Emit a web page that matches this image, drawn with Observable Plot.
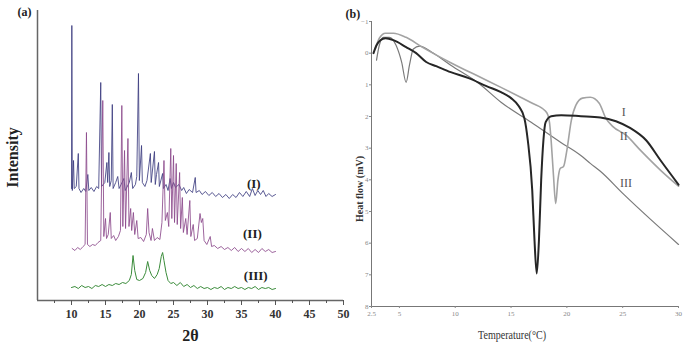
<!DOCTYPE html>
<html><head><meta charset="utf-8">
<script src="https://cdn.jsdelivr.net/npm/d3@7"></script>
<script src="https://cdn.jsdelivr.net/npm/@observablehq/plot@0.6"></script>
<style>
body{margin:0;background:#fff;}
#wrap{display:flex;width:688px;height:357px;overflow:hidden;background:#fff;}
#wrap svg{overflow:visible;}
</style></head><body><div id="wrap"></div>
<script>
// ---------- Panel (a): XRD patterns, [2θ, intensity (a.u., offset as plotted)] ----------
const xrdI = [[10.0,112],[10.05,275],[10.12,110],[10.3,140],[10.4,112],[10.7,114],[11.0,147],[11.1,112],[11.4,108],[11.8,112],[12.1,109],[12.4,126],[12.55,110],[12.9,113],[13.3,109],[13.7,114],[14.0,112],[14.3,218],[14.42,114],[14.9,118],[15.2,138],[15.32,118],[15.5,148],[15.62,114],[15.85,120],[16.0,196],[16.12,112],[16.5,118],[16.8,124],[17.0,112],[17.3,116],[17.7,122],[17.9,110],[18.5,118],[18.8,128],[19.0,112],[19.4,116],[19.6,124],[19.85,227],[19.98,120],[20.3,155],[20.42,118],[20.8,114],[21.1,120],[21.6,147],[21.72,118],[22.2,149],[22.32,116],[22.5,126],[22.8,138],[22.92,114],[23.4,127],[23.52,112],[23.9,116],[24.2,110],[24.5,122],[24.7,112],[25.0,118],[25.3,113],[25.8,116],[26.2,110],[26.5,113],[26.9,107],[27.3,111],[27.8,108],[28.2,123],[28.32,108],[28.8,110],[29.2,106],[29.7,109],[30.2,105],[30.7,108],[31.2,104],[31.7,107],[32.2,103],[32.7,106],[33.2,102],[33.7,106],[34.2,103],[34.7,108],[35.2,104],[35.7,109],[36.2,104],[36.6,112],[37.0,105],[37.4,110],[37.8,106],[38.2,110],[38.6,104],[39.0,107],[39.5,104],[40.0,106]];
const xrdII = [[10.1,52],[10.5,50],[10.9,53],[11.3,51],[11.7,54],[12.0,56],[12.2,168],[12.35,56],[12.7,54],[13.1,56],[13.5,55],[13.9,58],[14.3,60],[14.6,200],[14.75,64],[15.0,82],[15.15,62],[15.4,66],[15.7,88],[15.85,62],[16.2,65],[16.5,60],[16.9,64],[17.2,70],[17.4,195],[17.55,74],[17.8,150],[17.95,72],[18.3,162],[18.45,74],[18.7,92],[18.85,70],[19.1,88],[19.3,66],[19.6,80],[19.8,62],[20.2,63],[20.6,59],[21.0,66],[21.2,92],[21.4,68],[21.7,60],[21.9,72],[22.2,60],[22.6,63],[23.0,61],[23.3,78],[23.6,140],[23.8,80],[24.1,88],[24.3,74],[24.6,152],[24.75,82],[25.0,145],[25.15,78],[25.4,137],[25.55,76],[25.9,128],[26.05,72],[26.3,103],[26.45,68],[26.8,82],[27.0,66],[27.4,100],[27.55,64],[27.9,76],[28.1,60],[28.5,62],[28.9,87],[29.1,78],[29.3,82],[29.5,60],[29.9,56],[30.4,64],[30.6,54],[31.0,55],[31.5,52],[32.0,54],[32.5,51],[33.0,53],[33.5,50],[34.0,53],[34.5,49],[35.0,52],[35.5,49],[36.0,52],[36.5,48],[37.0,51],[37.5,48],[38.0,52],[38.5,49],[39.0,51],[39.5,48],[40.0,49]];
const xrdIII = [[10.0,13],[10.5,14],[11.0,12],[11.5,15],[12.0,13],[12.5,14],[13.0,12],[13.5,15],[14.0,14],[14.5,16],[15.0,14],[15.5,16],[16.0,15],[16.5,17],[17.0,16],[17.5,18],[18.0,17],[18.5,20],[18.8,26],[19.05,45],[19.3,30],[19.6,21],[20.0,20],[20.5,22],[20.9,28],[21.2,39],[21.5,30],[21.8,25],[22.2,22],[22.6,26],[22.9,32],[23.2,44],[23.4,48],[23.6,40],[23.9,28],[24.2,20],[24.6,17],[25.0,18],[25.5,15],[26.0,18],[26.5,14],[27.0,16],[27.5,13],[28.0,15],[28.5,12],[29.0,14],[29.5,12],[30.0,13],[30.5,11],[31.0,13],[31.5,12],[32.0,14],[32.5,11],[33.0,13],[33.5,12],[34.0,14],[34.5,12],[35.0,13],[35.5,11],[36.0,13],[36.5,12],[37.0,14],[37.5,11],[38.0,13],[38.5,12],[39.0,13],[39.5,11],[40.0,12]];
const xrdLabels = [{t:36.8,v:117,s:"(I)"},{t:36.6,v:67,s:"(II)"},{t:37.1,v:25,s:"(III)"}];
const xTicksA = [10,15,20,25,30,35,40,45,50];
const xMinorA = [7.5,12.5,17.5,22.5,27.5,32.5,37.5,42.5,47.5];

// ---------- Panel (b): DSC curves, [temperature, heat flow (mV)] ----------
const dscI = [[2.68,0],[2.95,-0.25],[3.3,-0.41],[3.75,-0.47],[4.46,-0.41],[5.6,-0.19],[6.5,0],[7.4,0.28],[8.3,0.41],[9.6,0.6],[11.2,0.79],[12.8,1.04],[14.1,1.23],[15.0,1.42],[15.7,1.68],[16.2,2.06],[16.5,2.75],[16.9,4.34],[17.1,5.9],[17.3,6.96],[17.5,5.9],[17.7,4.0],[17.9,2.75],[18.1,2.18],[18.6,1.99],[19.5,1.96],[21.25,1.99],[23.0,2.03],[24.4,2.15],[25.7,2.37],[27.1,2.75],[28.4,3.39],[30.0,4.15]];
const dscII = [[2.86,-0.16],[3.2,-0.47],[3.75,-0.63],[4.46,-0.63],[5.6,-0.5],[7.0,-0.2],[9.6,0.3],[12.3,0.77],[14.1,1.08],[15.9,1.4],[17.0,1.6],[17.7,1.72],[18.0,1.8],[18.3,1.95],[18.45,2.2],[18.6,2.8],[18.8,3.86],[19.0,4.75],[19.2,4.0],[19.4,3.64],[19.7,3.58],[20.0,3.07],[20.4,2.12],[20.8,1.65],[21.4,1.42],[22.1,1.39],[22.9,1.58],[23.5,2.06],[24.1,2.31],[25.3,2.59],[26.6,3.07],[28.4,3.7],[30.0,4.2]];
const dscIII = [[2.95,0.22],[3.2,-0.25],[3.57,-0.5],[4.1,-0.5],[4.7,-0.25],[5.2,0.28],[5.6,0.92],[5.9,0.38],[6.25,-0.13],[6.8,-0.22],[7.9,-0.03],[9.6,0.38],[12.1,0.95],[14.1,1.55],[16.8,2.18],[19.46,2.82],[21.25,3.23],[22.1,3.48],[23.0,3.73],[25.1,4.46],[27.5,5.25],[30.0,6.04]];
const dscLabels = [{t:25.1,v:1.87,s:"I"},{t:25.1,v:2.63,s:"II"},{t:25.3,v:4.12,s:"III"}];
const xTicksB = [2.5,5,10,15,20,25,30];
const yTicksB = [-1,0,1,2,3,4,5,6,7,8];

const serif = "'Liberation Serif', 'DejaVu Serif', serif";

const a = Plot.plot({
  width: 345, height: 357,
  marginLeft: 37, marginRight: 2, marginTop: 10, marginBottom: 57,
  x: {domain: [5, 50]},
  y: {domain: [0, 290]},
  style: {fontFamily: serif, background: "transparent", color: "#333", overflow: "visible"},
  marks: [
    Plot.line(xrdI, {x: d => d[0], y: d => d[1], stroke: "#3d3d80", strokeWidth: 1, strokeOpacity: 0.85}),
    Plot.line(xrdII, {x: d => d[0], y: d => d[1], stroke: "#8c4a8c", strokeWidth: 1, strokeOpacity: 0.85}),
    Plot.line(xrdIII, {x: d => d[0], y: d => d[1], stroke: "#3b8c3b", strokeWidth: 1}),
    Plot.ruleX([5], {stroke: "#666", strokeWidth: 1.5}),
    Plot.ruleY([0], {stroke: "#666", strokeWidth: 1.5}),
    Plot.axisX({ticks: xTicksA, tickSize: 5, tickPadding: 4, fontSize: 12, fontWeight: "bold", label: null, stroke: "#555"}),
    Plot.axisX({ticks: xMinorA, tickSize: 3, tickFormat: () => "", label: null, stroke: "#555"}),
    Plot.axisY({ticks: [], label: null}),
    Plot.text(xrdLabels, {x: "t", y: "v", text: "s", fontSize: 13, fontWeight: "bold", fill: "#222"}),
    Plot.text(["2θ"], {frameAnchor: "bottom", dy: 40, fontSize: 16, fontWeight: "bold", fill: "#222"}),
    Plot.text(["Intensity"], {frameAnchor: "left", textAnchor: "middle", dx: -25, dy: 2, rotate: -90, fontSize: 16, fontWeight: "bold", fill: "#222"}),
    Plot.text(["(a)"], {frameAnchor: "top-left", lineAnchor: "top", dx: -20, dy: -3, fontSize: 12, fontWeight: "bold", fill: "#222"})
  ]
});

const b = Plot.plot({
  width: 343, height: 357,
  marginLeft: 26, marginRight: 10, marginTop: 21, marginBottom: 51,
  x: {domain: [2.5, 30]},
  y: {domain: [-1, 8], reverse: true},
  style: {fontFamily: serif, background: "transparent", color: "#555", overflow: "visible"},
  marks: [
    Plot.line(dscIII, {x: d => d[0], y: d => d[1], curve: "monotone-x", stroke: "#7a7a7a", strokeWidth: 1.2}),
    Plot.line(dscII, {x: d => d[0], y: d => d[1], curve: "monotone-x", stroke: "#a3a3a3", strokeWidth: 1.6}),
    Plot.line(dscI, {x: d => d[0], y: d => d[1], curve: "monotone-x", stroke: "#262626", strokeWidth: 2}),
    Plot.ruleX([2.5], {stroke: "#777", strokeWidth: 1}),
    Plot.ruleY([8], {stroke: "#777", strokeWidth: 1}),
    Plot.axisY({ticks: yTicksB, tickSize: 2, tickPadding: 1, fontSize: 7, label: null, stroke: "#888", fill: "#888"}),
    Plot.axisX({ticks: xTicksB, tickSize: 2, tickPadding: 3, fontSize: 7, label: null, stroke: "#888", fill: "#888", tickFormat: d => String(d)}),
    Plot.text(dscLabels, {x: "t", y: "v", text: "s", fontSize: 12, fill: "#555"}),
    Plot.text(["Temperature(°C)"], {frameAnchor: "bottom", dx: -13, dy: 32, fontSize: 12, fill: "#333"}),
    Plot.text(["Heat flow (mV)"], {frameAnchor: "left", textAnchor: "middle", dx: -12, dy: 25, rotate: -90, fontSize: 10, fontWeight: "bold", fill: "#333", letterSpacing: 1.8}),
    Plot.text(["(b)"], {frameAnchor: "top-left", lineAnchor: "top", dx: -26, dy: -12, fontSize: 12, fontWeight: "bold", fill: "#222"})
  ]
});

const wrap = document.getElementById("wrap");
wrap.appendChild(a);
wrap.appendChild(b);
b.querySelectorAll("text").forEach(t => {
  if (t.textContent === "Temperature(°C)") {
    t.setAttribute("textLength", "68");
    t.setAttribute("lengthAdjust", "spacingAndGlyphs");
  }
});
</script></body></html>
